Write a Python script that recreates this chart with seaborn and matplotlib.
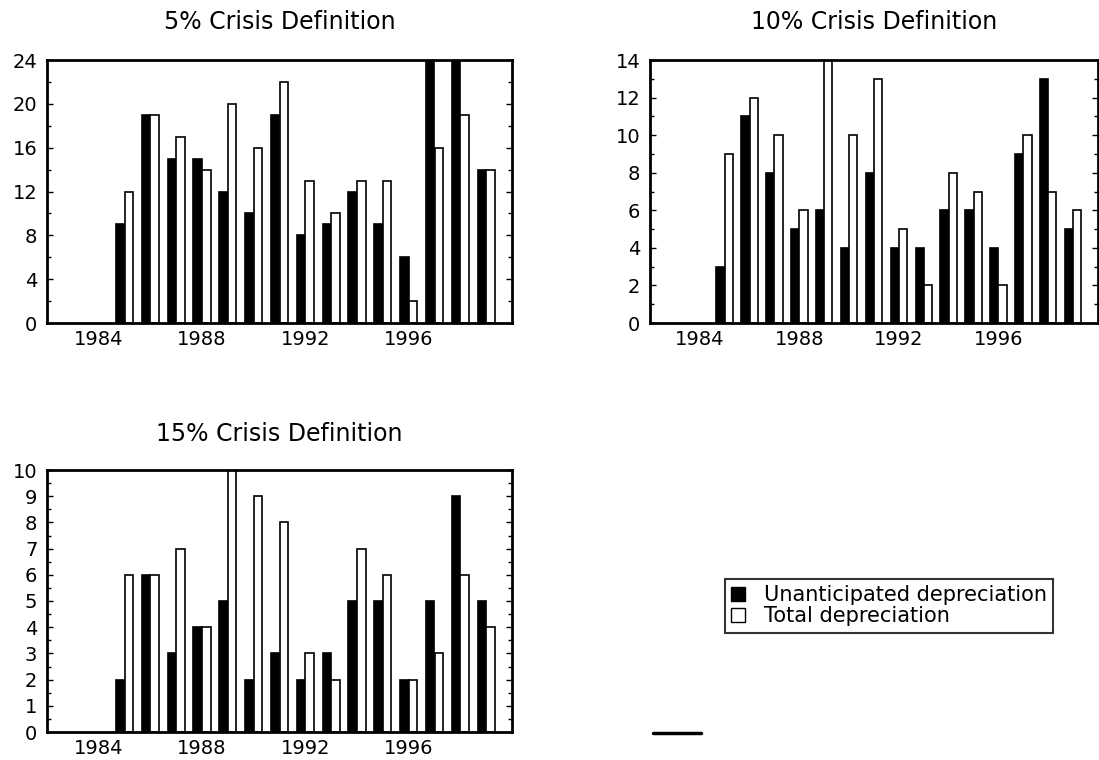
import numpy as np
import pandas as pd
import matplotlib
matplotlib.use("Agg")
import matplotlib.pyplot as plt
import matplotlib.patches as mpatches
from matplotlib.lines import Line2D
from matplotlib.ticker import MultipleLocator
import seaborn as sns

years = list(range(1985, 2000))
series_names = ["Unanticipated depreciation", "Total depreciation"]

unant_5 = [9, 19, 15, 15, 12, 10, 19, 8, 9, 12, 9, 6, 26, 25, 14]
total_5 = [12, 19, 17, 14, 20, 16, 22, 13, 10, 13, 13, 2, 16, 19, 14]

unant_10 = [3, 11, 8, 5, 6, 4, 8, 4, 4, 6, 6, 4, 9, 13, 5]
total_10 = [9, 12, 10, 6, 14, 10, 13, 5, 2, 8, 7, 2, 10, 7, 6]

unant_15 = [2, 6, 3, 4, 5, 2, 3, 2, 3, 5, 5, 2, 5, 9, 5]
total_15 = [6, 6, 7, 4, 10, 9, 8, 3, 2, 7, 6, 2, 3, 6, 4]

titles = ["5% Crisis Definition", "10% Crisis Definition", "15% Crisis Definition"]
y_max = [24, 14, 10]
y_major = [4, 2, 1]
y_minor = [2, 1, 0.5]
x_ticks = [1984, 1988, 1992, 1996]

sns.set_theme(style="white")
plt.rcParams["font.family"] = ["DejaVu Sans"]
plt.rcParams["text.color"] = "black"
plt.rcParams["axes.labelcolor"] = "black"
plt.rcParams["xtick.color"] = "black"
plt.rcParams["ytick.color"] = "black"
plt.rcParams["axes.titlecolor"] = "black"

W, H = 1099, 760
fig = plt.figure(figsize=(W / 100, H / 100), dpi=100)

def rect(l, r, t, b):
    return [l / W, 1 - b / H, (r - l) / W, (b - t) / H]

positions = [rect(47, 512, 60, 323), rect(650, 1098, 60, 323), rect(47, 512, 470, 732)]
datasets = [(unant_5, total_5), (unant_10, total_10), (unant_15, total_15)]
title_pads = [22, 22, 21]

palette = {series_names[0]: "black", series_names[1]: "white"}

for i in range(3):
    ax = fig.add_axes(positions[i])
    u, t = datasets[i]
    df = pd.DataFrame({
        "year": years * 2,
        "value": u + t,
        "series": [series_names[0]] * len(years) + [series_names[1]] * len(years),
    })
    sns.barplot(data=df, x="year", y="value", hue="series", hue_order=series_names,
                native_scale=True, width=0.66, palette=palette, edgecolor="black",
                linewidth=1.2, ax=ax, legend=False, errorbar=None)
    ax.set_xlim(1982, 2000)
    ax.set_ylim(0, y_max[i])
    ax.set_xticks(x_ticks)
    ax.set_xticklabels([str(x) for x in x_ticks])
    ax.yaxis.set_major_locator(MultipleLocator(y_major[i]))
    ax.yaxis.set_minor_locator(MultipleLocator(y_minor[i]))
    ax.set_xlabel("")
    ax.set_ylabel("")
    ax.set_title(titles[i], fontsize=17, pad=title_pads[i], color="black")
    for s in ax.spines.values():
        s.set_visible(True)
        s.set_color("black")
        s.set_linewidth(2)
    ax.tick_params(axis="x", length=0, labelsize=14, pad=5, labelcolor="black")
    ax.tick_params(axis="y", which="both", direction="in", left=True, right=True,
                   labelsize=14, pad=7, labelcolor="black", color="black")
    ax.tick_params(axis="y", which="major", length=4, width=1)
    ax.tick_params(axis="y", which="minor", length=3, width=1)
    ax.grid(False)

handles = [mpatches.Patch(facecolor="black", edgecolor="black", label=series_names[0]),
           mpatches.Patch(facecolor="white", edgecolor="black", label=series_names[1])]
leg = fig.legend(handles=handles, loc="upper left", bbox_to_anchor=(725 / W, 1 - 579 / H),
                 fontsize=15, frameon=True, fancybox=False, shadow=False,
                 handlelength=0.65, handleheight=0.7, handletextpad=0.9,
                 labelspacing=0.05, borderpad=0.3, borderaxespad=0)
leg.get_frame().set_edgecolor("black")
leg.get_frame().set_linewidth(1.5)
for txt in leg.get_texts():
    txt.set_color("black")

fig.add_artist(Line2D([653 / W, 701 / W], [1 - 733 / H, 1 - 733 / H], color="black", lw=2.5))

fig.savefig("out.png", dpi=100)
